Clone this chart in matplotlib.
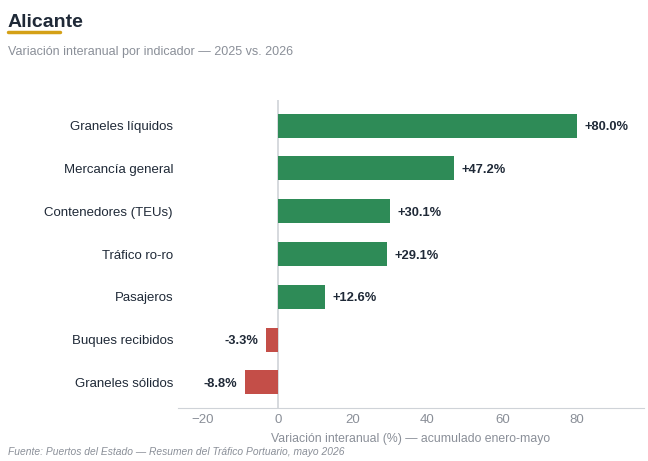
import matplotlib
matplotlib.use("Agg")
import matplotlib.pyplot as plt
from matplotlib.lines import Line2D

plt.rcParams["font.family"] = ["Liberation Sans", "DejaVu Sans"]

indicators = [
    "Graneles líquidos",
    "Mercancía general",
    "Contenedores (TEUs)",
    "Tráfico ro-ro",
    "Pasajeros",
    "Buques recibidos",
    "Graneles sólidos",
]
variation = [80.0, 47.2, 30.1, 29.1, 12.6, -3.3, -8.8]

green = "#2e8b57"
red = "#c44e48"
dark = "#1f2937"
grey = "#8a8f98"

fig = plt.figure(figsize=(6.48, 4.61), dpi=100)
ax = fig.add_axes([178 / 648, 1 - 408 / 461, (644 - 178) / 648, (408 - 100) / 461])

ypos = list(range(len(indicators)))
colors = [green if v >= 0 else red for v in variation]
ax.barh(ypos, variation, height=0.56, color=colors, zorder=2)

for y, v in zip(ypos, variation):
    label = f"{v:+.1f}%"
    if v >= 0:
        ax.text(v + 2, y, label, va="center_baseline", ha="left", fontsize=9.3,
                fontweight="bold", color=dark)
    else:
        ax.text(v - 2, y, label, va="center_baseline", ha="right", fontsize=9.3,
                fontweight="bold", color=dark)

ax.axvline(0, color="#cfd3d8", linewidth=1.2, zorder=1)
ax.set_xlim(-26.7, 97.9)
ax.set_ylim(6.6, -0.6)
ax.set_yticks(ypos)
ax.set_yticklabels(indicators, fontsize=9.5, color=dark, va="center_baseline")
ax.set_xticks([-20, 0, 20, 40, 60, 80])
ax.tick_params(axis="y", length=0, pad=3.6)
ax.tick_params(axis="x", length=0, labelsize=9.5, labelcolor=grey, pad=4)
for s in ["top", "right", "left"]:
    ax.spines[s].set_visible(False)
ax.spines["bottom"].set_color("#cfd3d8")
ax.set_xlabel("Variación interanual (%) — acumulado enero-mayo",
              fontsize=8.8, color=grey, labelpad=5)

fig.text(8 / 648, 1 - 27 / 461, "Alicante", fontsize=14, fontweight="bold",
         color=dark, va="baseline", ha="left")
fig.add_artist(Line2D([8 / 648, 60 / 648], [1 - 32 / 461, 1 - 32 / 461],
                      color="#d4a017", linewidth=2.5, solid_capstyle="round"))
fig.text(8 / 648, 1 - 55 / 461, "Variación interanual por indicador — 2025 vs. 2026",
         fontsize=9, color=grey, va="baseline", ha="left")
fig.text(8 / 648, 1 - 455 / 461,
         "Fuente: Puertos del Estado — Resumen del Tráfico Portuario, mayo 2026",
         fontsize=7.4, style="italic", color=grey, va="baseline", ha="left")

fig.savefig("out.png", dpi=100)
